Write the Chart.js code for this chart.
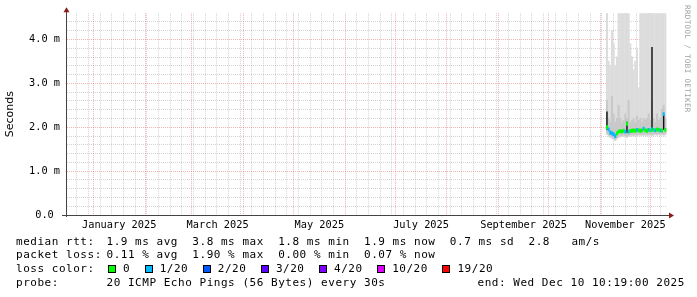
<!DOCTYPE html>
<html>
<head>
<meta charset="utf-8">
<script src="https://cdn.jsdelivr.net/npm/chart.js@4.4.1/dist/chart.umd.min.js"></script>
<style>
  body { margin: 0; background: #fff; }
  #wrap { position: relative; width: 697px; height: 297px; overflow: hidden; }
  #chart { position: absolute; left: 0; top: 0; }
  .lg { position: absolute; font: 11px "DejaVu Sans Mono", monospace; letter-spacing: 0.53px;
        white-space: pre; line-height: 14px; color: #000; }
  .box { display: inline-block; width: 6px; height: 6px; border: 1px solid #000;
         margin-right: 7px; vertical-align: -1px; }
  .lbl { margin-right: 14.5px; }
</style>
</head>
<body>
<div id="wrap">
  <canvas id="chart" width="697" height="297"></canvas>
  <div id="legend"></div>
</div>
<script>
// one column per day (day 0 = 1 Jan 2025)
const days = [308, 309, 310, 311, 312, 313, 314, 315, 316, 317, 318, 319, 320, 321, 322, 323, 324, 325,
  326, 327, 328, 329, 330, 331, 332, 333, 334, 335, 336, 337, 338, 339, 340, 341, 342, 343];
// smoke (ms)
const smokeMax = [4.8, 3.5, 3.4, 4.2, 3.9, 3.4, 3.6, 4.8, 4.8, 4.8, 4.8, 4.8, 4.8, 4.8, 3.9, 3.6, 3.3, 3.5,
  3.8, 2.9, 4.8, 4.8, 4.8, 4.8, 4.8, 4.8, 4.8, 4.8, 4.8, 4.8, 4.8, 4.8, 4.8, 4.8, 4.8, 4.8];
const smokeHi = [2.6, 2.2, 2.1, 2.7, 2.3, 2.1, 2.2, 2.5, 2.2, 2.1, 2.15, 2.3, 2.2, 2.6, 2.1, 2.15, 2.2, 2.1,
  2.25, 2.15, 2.2, 2.1, 2.2, 2.15, 2.2, 2.3, 2.15, 2.6, 2.2, 2.1, 2.3, 2.15, 2.2, 2.4, 2.5, 2.2];
const smokeMin = [1.84, 1.8, 1.77, 1.75, 1.72, 1.7, 1.74, 1.77, 1.78, 1.79, 1.8, 1.78, 1.77, 1.79, 1.8, 1.81,
  1.8, 1.81, 1.8, 1.82, 1.81, 1.82, 1.81, 1.82, 1.81, 1.82, 1.82, 1.81, 1.82, 1.83, 1.82, 1.83, 1.82, 1.83, 1.82, 1.83];
// median rtt (ms) and loss colour index
const median = [2.0, 1.95, 1.88, 1.86, 1.84, 1.8, 1.86, 1.9, 1.91, 1.9, 1.92, 1.9, 2.08, 1.9, 1.91, 1.92,
  1.93, 1.92, 1.94, 1.93, 1.92, 1.93, 1.97, 1.93, 1.92, 1.94, 1.93, 1.95, 1.94, 1.93, 1.95, 1.94, 1.93, 1.93, 2.3, 1.94];
const lossIdx = [0, 1, 1, 1, 1, 1, 0, 0, 0, 0, 0, 1, 0, 1, 0, 0, 0, 0, 1, 0, 0, 0, 1, 0, 0, 1, 0, 1, 0, 1,
  0, 0, 1, 0, 1, 0];
// dark spikes
const spikeDays = [308, 320, 335, 342];
const spikeLow = [1.95, 1.88, 1.95, 1.95];
const spikeHigh = [2.35, 2.12, 3.82, 2.28];

const lossLabels = ["0", "1/20", "2/20", "3/20", "4/20", "10/20", "19/20"];
const lossColors = ["#00ff00", "#00b8ff", "#0059ff", "#5e00ff", "#7e00ff", "#dd00ff", "#ff0000"];

const monthStarts = [0, 31, 59, 90, 120, 151, 181, 212, 243, 273, 304, 334];
const monthLabelDays = [15.5, 74.5, 135.5, 196.5, 258, 319];
const monthLabels = ["January 2025", "March 2025", "May 2025", "July 2025", "September 2025", "November 2025"];
const firstWeek = -10;
const xMin = -15.8;
const xMax = 344;
const yMax = 4.6;

const weekTicks = [];
for (let d = firstWeek; d < xMax; d += 7) weekTicks.push(d);
const tickValues = [...new Set([...weekTicks, ...monthStarts, ...monthLabelDays])].sort((a, b) => a - b);

const MONO = "DejaVu Sans Mono";
const minorGrid = "rgba(140,140,140,0.38)";
const majorGrid = "rgba(225,90,90,0.45)";

function xGridColor(ctx) {
  const v = ctx.tick && ctx.tick.value;
  if (monthStarts.includes(v)) return majorGrid;
  if (weekTicks.includes(v)) return minorGrid;
  return "rgba(0,0,0,0)";
}

function isWhole(v) {
  return Math.abs(v - Math.round(v)) < 1e-6;
}

const frame = {
  id: "frame",
  afterDraw(chart) {
    const { ctx, chartArea: a } = chart;
    ctx.save();
    ctx.strokeStyle = "#444";
    ctx.lineWidth = 1;
    ctx.beginPath();
    ctx.moveTo(a.left - 0.5, a.top - 2);
    ctx.lineTo(a.left - 0.5, a.bottom + 2);
    ctx.moveTo(a.left - 5, a.bottom + 0.5);
    ctx.lineTo(a.right + 3, a.bottom + 0.5);
    ctx.stroke();
    ctx.fillStyle = "#8c1c1c";
    ctx.beginPath();
    ctx.moveTo(a.left - 0.5, a.top - 6);
    ctx.lineTo(a.left - 3.5, a.top - 1);
    ctx.lineTo(a.left + 2.5, a.top - 1);
    ctx.closePath();
    ctx.fill();
    ctx.beginPath();
    ctx.moveTo(a.right + 7, a.bottom + 0.5);
    ctx.lineTo(a.right + 2, a.bottom - 2.5);
    ctx.lineTo(a.right + 2, a.bottom + 3.5);
    ctx.closePath();
    ctx.fill();
    // watermark
    ctx.translate(687, 5);
    ctx.rotate(Math.PI / 2);
    ctx.font = "7.5px " + MONO;
    ctx.letterSpacing = "0.38px";
    ctx.fillStyle = "#a0a0a0";
    ctx.textAlign = "left";
    ctx.textBaseline = "middle";
    ctx.fillText("RRDTOOL / TOBI OETIKER", 0, 0);
    ctx.restore();
  },
};

new Chart(document.getElementById("chart"), {
  type: "bar",
  data: {
    datasets: [
      {
        label: "median",
        data: days.map((d, i) => ({ x: d, y: [median[i] - 0.03, median[i] + 0.03] })),
        backgroundColor: lossIdx.map((k) => lossColors[k]),
        order: 0,
      },
      {
        label: "spikes",
        data: spikeDays.map((d, i) => ({ x: d, y: [spikeLow[i], spikeHigh[i]] })),
        backgroundColor: "#111111",
        inflateAmount: 0.3,
        order: 1,
      },
      {
        label: "smoke inner",
        data: days.map((d, i) => ({ x: d, y: [smokeMin[i] + 0.03, smokeHi[i]] })),
        backgroundColor: "#c8c8c8",
        order: 2,
      },
      {
        label: "smoke",
        data: days.map((d, i) => ({ x: d, y: [smokeMin[i], smokeMax[i]] })),
        backgroundColor: "#dcdcdc",
        order: 3,
      },
    ],
  },
  options: {
    responsive: false,
    animation: false,
    events: [],
    grouped: false,
    barPercentage: 1,
    categoryPercentage: 1,
    borderWidth: 0,
    inflateAmount: 0.6,
    layout: { padding: { top: 13, right: 30, left: 0, bottom: 0 } },
    plugins: { legend: { display: false }, tooltip: { enabled: false } },
    scales: {
      x: {
        type: "linear",
        min: xMin,
        max: xMax,
        offset: false,
        z: 1,
        afterBuildTicks: (s) => {
          s.ticks = tickValues.map((v) => ({ value: v }));
        },
        afterFit: (s) => {
          s.height = 82;
        },
        grid: { offset: false, drawTicks: false, lineWidth: 1, color: xGridColor },
        border: { display: false, dash: [1, 1] },
        ticks: {
          autoSkip: false,
          maxRotation: 0,
          padding: 4,
          color: "#000",
          font: { family: MONO, size: 10.3 },
          callback: (v) => {
            const i = monthLabelDays.indexOf(v);
            return i >= 0 ? monthLabels[i] : "";
          },
        },
      },
      y: {
        min: 0,
        max: yMax,
        z: 1,
        afterFit: (s) => {
          s.width = 67;
        },
        grid: {
          drawTicks: false,
          lineWidth: 1,
          color: (ctx) => {
            const v = ctx.tick.value;
            if (v === 0 || v > yMax - 0.1) return "rgba(0,0,0,0)";
            return isWhole(v) ? majorGrid : minorGrid;
          },
        },
        border: { display: false, dash: [1, 1] },
        ticks: {
          stepSize: 0.2,
          autoSkip: false,
          padding: 7,
          color: "#000",
          font: { family: MONO, size: 10.3 },
          callback: (v) => {
            if (!isWhole(v) || v > yMax - 0.1) return "";
            return v === 0 ? "0.0 " : v.toFixed(1) + " m";
          },
        },
        title: {
          display: true,
          text: "Seconds",
          color: "#000",
          font: { family: "DejaVu Sans", size: 11 },
          padding: { top: 4, bottom: 0 },
        },
      },
    },
  },
  plugins: [frame],
});

// legend block under the graph
const legend = document.getElementById("legend");
const rows = [
  { y: 234.5, label: "median rtt:", text: "1.9 ms avg  3.8 ms max  1.8 ms min  1.9 ms now  0.7 ms sd  2.8   am/s" },
  { y: 248, label: "packet loss:", text: "0.11 % avg  1.90 % max  0.00 % min  0.07 % now" },
  { y: 262, label: "loss color:", text: null },
  { y: 275.5, label: "probe:", text: "20 ICMP Echo Pings (56 Bytes) every 30s" },
];
rows.forEach((r) => {
  const l = document.createElement("div");
  l.className = "lg";
  l.style.left = "16px";
  l.style.top = r.y + "px";
  l.textContent = r.label;
  legend.appendChild(l);
  const t = document.createElement("div");
  t.className = "lg";
  t.style.left = "106.5px";
  t.style.top = r.y + "px";
  if (r.text) {
    t.textContent = r.text;
  } else {
    t.style.left = "108px";
    lossLabels.forEach((name, i) => {
      const b = document.createElement("span");
      b.className = "box";
      b.style.background = lossColors[i];
      const s = document.createElement("span");
      s.className = "lbl";
      s.textContent = name;
      t.appendChild(b);
      t.appendChild(s);
    });
  }
  legend.appendChild(t);
});
const end = document.createElement("div");
end.className = "lg";
end.style.left = "477.5px";
end.style.top = "275.5px";
end.textContent = "end: Wed Dec 10 10:19:00 2025";
legend.appendChild(end);
</script>
</body>
</html>
